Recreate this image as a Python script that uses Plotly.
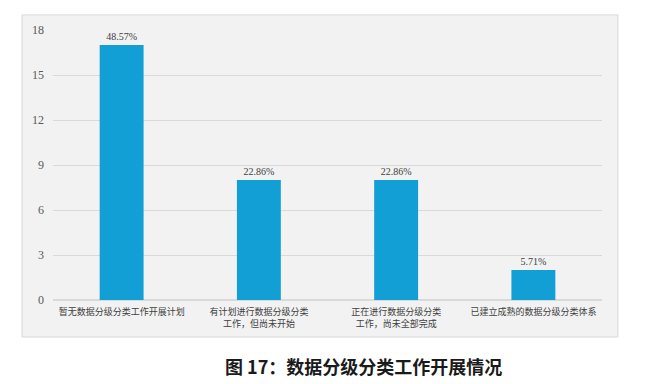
import plotly.graph_objects as go

categories = ["暂无数据分级分类工作开展计划",
              "有计划进行数据分级分类<br>工作，但尚未开始",
              "正在进行数据分级分类<br>工作，尚未全部完成",
              "已建立成熟的数据分级分类体系"]
values = [17, 8, 8, 2]
labels = ["48.57%", "22.86%", "22.86%", "5.71%"]
y_ticks = [0, 3, 6, 9, 12, 15, 18]
title_text = "<b>图 17：数据分级分类工作开展情况</b>"

font_fam = "Liberation Serif, Noto Sans CJK SC, serif"

fig = go.Figure(go.Bar(
    x=categories, y=values, text=labels, textposition="outside",
    marker=dict(color="#119fd6", line=dict(width=0)),
    width=0.32, cliponaxis=False,
    textfont=dict(family=font_fam, size=10, color="#404040"),
))

fig.update_layout(
    width=647, height=384,
    margin=dict(l=53, r=45, t=30, b=84),
    paper_bgcolor="white", plot_bgcolor="rgba(0,0,0,0)",
    showlegend=False,
    font=dict(family=font_fam, color="#595959"),
    xaxis=dict(showgrid=False, showline=False, ticks="", zeroline=False,
               tickfont=dict(size=9, color="#404040", family="Noto Sans CJK SC"),
               tickangle=0, ticklabelstandoff=5),
    yaxis=dict(range=[0, 18], tickvals=y_ticks, showgrid=True, gridcolor="#d9d9d9",
               gridwidth=1, zeroline=True, zerolinecolor="#d9d9d9", showline=False,
               ticks="", ticklabelstandoff=8,
               tickfont=dict(size=12, color="#595959", family=font_fam)),
    shapes=[dict(type="rect", xref="paper", yref="paper",
                 x0=-0.0565, x1=1.029, y0=-0.137, y1=1.056,
                 fillcolor="#f2f2f2", line=dict(color="#d9d9d9", width=1),
                 layer="below")],
    annotations=[dict(text=title_text, xref="paper", yref="paper",
                      x=0.565, y=-0.244, showarrow=False, xanchor="center", yanchor="middle",
                      font=dict(family="Noto Sans CJK SC", size=18, color="#1a1a1a"))],
)

fig.write_html("out.html", config={"displayModeBar": False},
               post_script="document.body.style.margin='0';document.body.style.padding='0';")
